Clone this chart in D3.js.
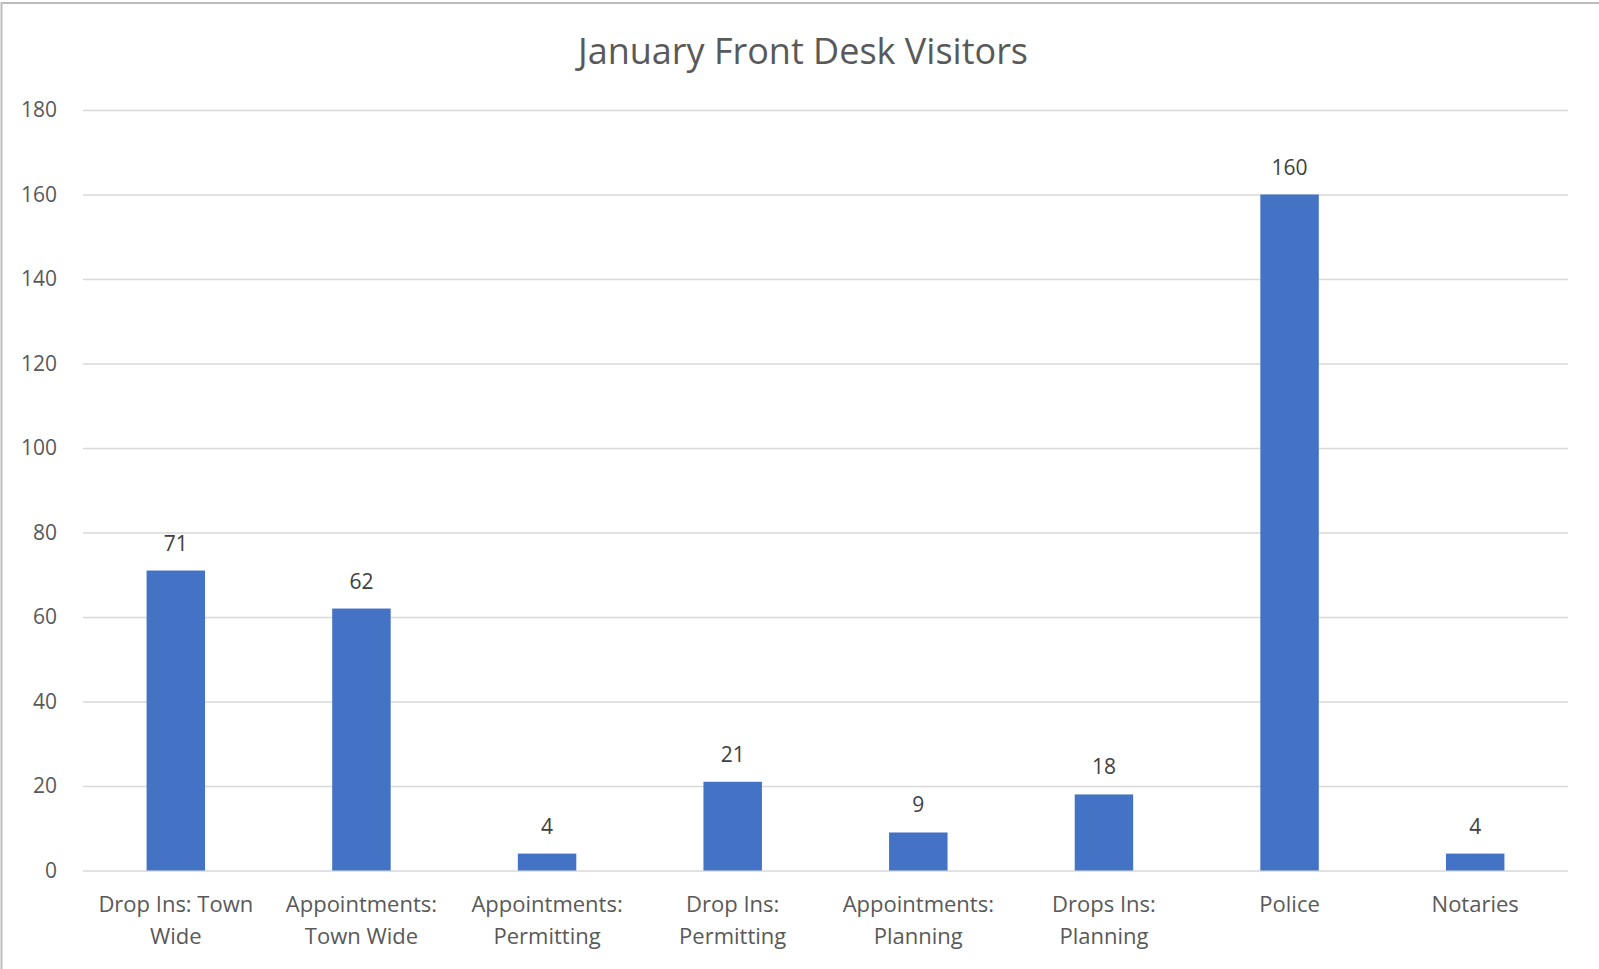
<!DOCTYPE html>
<html>
<head>
<meta charset="utf-8">
<script src="https://cdn.jsdelivr.net/npm/d3@7"></script>
<style>
    html, body { margin: 0; padding: 0; background: #fff; }
    svg { display: block; font-family: "Open Sans", sans-serif; }
</style>
</head>
<body>
<svg id="chart" width="1599" height="969"></svg>
<script>
const TITLE = "January Front Desk Visitors";
const categories = [
    "Drop Ins: Town Wide",
    "Appointments: Town Wide",
    "Appointments: Permitting",
    "Drop Ins: Permitting",
    "Appointments: Planning",
    "Drops Ins: Planning",
    "Police",
    "Notaries"
];
const visitors = [71, 62, 4, 21, 9, 18, 160, 4];
const yTicks = [0, 20, 40, 60, 80, 100, 120, 140, 160, 180];

const width = 1599;
const height = 969;
const leftX = 83;
const rightX = 1568;
const upperY = 110;
const lowerY = 870.5;

const TEXT_COLOR = "#595959";
const GRID_COLOR = "#d9d9d9";
const BAR_COLOR = "#4472c4";

const svg = d3.select("#chart");

const translate = (x, y) => "translate(" + x + "," + y + ")";

// chart area border (only top and left edges are visible in the frame)
svg.append("rect")
    .attr("x", 1.5)
    .attr("y", 3)
    .attr("width", width + 10)
    .attr("height", height + 10)
    .attr("fill", "#fff")
    .attr("stroke", "#bcbcbc")
    .attr("stroke-width", 2);

const xScale = d3.scaleBand()
    .domain(categories)
    .range([leftX, rightX])
    .paddingInner(0.685)
    .paddingOuter(0.3425);

const yScale = d3.scaleLinear()
    .domain([0, 180])
    .range([lowerY, upperY]);

// title
svg.append("text")
    .attr("x", 803)
    .attr("y", 64)
    .attr("text-anchor", "middle")
    .attr("fill", TEXT_COLOR)
    .style("font-size", "36px")
    .text(TITLE);

// y axis: gridlines + labels
const yAxis = svg.append("g")
    .attr("class", "yaxis")
    .attr("transform", translate(leftX, 0))
    .call(d3.axisLeft(yScale).tickValues(yTicks).tickSize(-(rightX - leftX)).tickPadding(26));

yAxis.select(".domain").remove();
yAxis.selectAll(".tick line")
    .attr("stroke", GRID_COLOR)
    .attr("stroke-width", 1.5);
yAxis.selectAll(".tick text")
    .attr("fill", TEXT_COLOR)
    .attr("dy", "0.33em")
    .style("font-size", "21px")
    .style("font-family", "'Open Sans', sans-serif");

// bars
svg.append("g")
    .attr("class", "bars")
    .selectAll("rect")
    .data(visitors)
    .enter()
    .append("rect")
    .attr("x", (d, i) => xScale(categories[i]))
    .attr("y", d => yScale(d))
    .attr("width", xScale.bandwidth())
    .attr("height", d => yScale(0) - yScale(d))
    .attr("fill", BAR_COLOR);

// data labels
svg.append("g")
    .attr("class", "labels")
    .selectAll("text")
    .data(visitors)
    .enter()
    .append("text")
    .attr("x", (d, i) => xScale(categories[i]) + xScale.bandwidth() / 2)
    .attr("y", d => yScale(d) - 20)
    .attr("text-anchor", "middle")
    .attr("fill", "#404040")
    .style("font-size", "21px")
    .text(d => d);

// category labels, wrapped to the category width
const xAxis = svg.append("g")
    .attr("class", "xaxis")
    .attr("transform", translate(0, lowerY));

const wrapWidth = xScale.step() - 8;

categories.forEach(name => {
    const cx = xScale(name) + xScale.bandwidth() / 2;
    const text = xAxis.append("text")
        .attr("text-anchor", "middle")
        .attr("fill", TEXT_COLOR)
        .style("font-size", "22px");
    const words = name.split(" ");
    let lines = [];
    let line = [];
    const probe = text.append("tspan");
    words.forEach(w => {
        line.push(w);
        probe.text(line.join(" "));
        if (probe.node().getComputedTextLength() > wrapWidth && line.length > 1) {
            line.pop();
            lines.push(line.join(" "));
            line = [w];
        }
    });
    lines.push(line.join(" "));
    probe.remove();
    lines.forEach((l, i) => {
        text.append("tspan")
            .attr("x", cx)
            .attr("y", 41 + i * 32)
            .text(l);
    });
});
</script>
</body>
</html>
